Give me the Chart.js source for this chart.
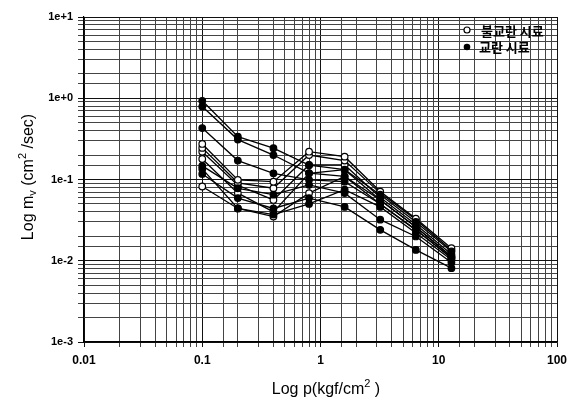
<!DOCTYPE html>
<html><head><meta charset="utf-8">
<script src="https://cdn.jsdelivr.net/npm/chart.js@4/dist/chart.umd.min.js"></script>
<style>html,body{margin:0;padding:0;background:#fff}#wrap{width:577px;height:403px;position:relative}</style>
</head><body><div id="wrap"><canvas id="c" width="577" height="403"></canvas></div>
<script>
const pressures = [0.1, 0.2, 0.4, 0.8, 1.6, 3.2, 6.4, 12.8];
// undisturbed (open markers)
const open1 = [0.274, 0.099, 0.094, 0.22, 0.191, 0.071, 0.033, 0.0143];
const open2 = [0.245, 0.091, 0.078, 0.20, 0.171, 0.068, 0.032, 0.0135];
const open3 = [0.22, 0.085, 0.056, 0.151, 0.151, 0.060, 0.028, 0.0120];
const open4 = [0.179, 0.068, 0.040, 0.119, 0.132, 0.056, 0.026, 0.0113];
const open5 = [0.082, 0.044, 0.035, 0.068, 0.109, 0.050, 0.024, 0.0108];
// disturbed (filled markers)
const filled1 = [0.93, 0.337, 0.243, 0.150, 0.132, 0.065, 0.030, 0.0130];
const filled2 = [0.79, 0.310, 0.200, 0.120, 0.109, 0.056, 0.026, 0.0113];
const filled3 = [0.43, 0.171, 0.119, 0.099, 0.094, 0.050, 0.024, 0.0108];
const filled4 = [0.147, 0.078, 0.065, 0.086, 0.068, 0.032, 0.0199, 0.0095];
const filled5 = [0.135, 0.044, 0.037, 0.050, 0.075, 0.046, 0.022, 0.0103];
const filled6 = [0.117, 0.059, 0.044, 0.059, 0.046, 0.024, 0.0136, 0.0081];
const xTickLabels = ['0.01', '0.1', '1', '10', '100'];
const yTickLabels = ['1e-3', '1e-2', '1e-1', '1e+0', '1e+1'];
const legendLabels = ['불교란 시료', '교란 시료'];

const openSeries = [open1, open2, open3, open4, open5];
const filledSeries = [filled1, filled2, filled3, filled4, filled5, filled6];
const mk = (arr, filled) => ({
  data: arr.map((v, i) => ({x: pressures[i], y: v})),
  borderColor: '#000', borderWidth: 1.3,
  pointRadius: 3.3, pointBorderWidth: 1.2,
  pointBackgroundColor: filled ? '#000' : '#fff', pointBorderColor: '#000',
  showLine: true, fill: false
});
const datasets = [...filledSeries.map(a => mk(a, true)), ...openSeries.map(a => mk(a, false))];

const isPow = v => Math.abs(Math.log10(v) - Math.round(Math.log10(v))) < 1e-6;

const decor = {
  id: 'decor',
  afterDraw(chart) {
    const ctx = chart.ctx;
    ctx.save();
    ctx.fillStyle = '#000';
    ctx.textBaseline = 'alphabetic';
    const fam = '"Liberation Sans", Arial, sans-serif';
    // X title
    const xt = [['Log p(kgf/cm', 16, 0], ['2', 11, -7], [' )', 16, 0]];
    let w = 0;
    xt.forEach(p => { ctx.font = p[1] + 'px ' + fam; w += ctx.measureText(p[0]).width; });
    let x = 326 - w / 2;
    xt.forEach(p => { ctx.font = p[1] + 'px ' + fam; ctx.fillText(p[0], x, 394 + p[2]); x += ctx.measureText(p[0]).width; });
    // Y title
    ctx.translate(33, 177);
    ctx.rotate(-Math.PI / 2);
    const yt = [['Log m', 16, 0], ['v', 11, 3], [' (cm', 16, 0], ['2', 11, -7], [' /sec)', 16, 0]];
    w = 0;
    yt.forEach(p => { ctx.font = p[1] + 'px ' + fam; w += ctx.measureText(p[0]).width; });
    x = -w / 2;
    yt.forEach(p => { ctx.font = p[1] + 'px ' + fam; ctx.fillText(p[0], x, p[2]); x += ctx.measureText(p[0]).width; });
    ctx.restore();
    // legend
    ctx.save();
    const lx = 467, ly = [30, 47];
    ctx.lineWidth = 1.2; ctx.strokeStyle = '#000';
    ctx.beginPath(); ctx.arc(lx, ly[0], 3, 0, Math.PI * 2); ctx.fillStyle = '#fff'; ctx.fill(); ctx.stroke();
    ctx.beginPath(); ctx.arc(lx, ly[1], 3.3, 0, Math.PI * 2); ctx.fillStyle = '#000'; ctx.fill();
    ctx.font = 'bold 13px "Noto Sans CJK KR", sans-serif';
    ctx.textBaseline = 'middle';
    ctx.fillStyle = '#000';
    ctx.fillText(legendLabels[0], 481, ly[0] + 1);
    ctx.fillText(legendLabels[1], 479, ly[1]);
    ctx.restore();
  }
};

new Chart(document.getElementById('c'), {
  type: 'scatter',
  data: { datasets },
  options: {
    responsive: false, animation: false, devicePixelRatio: 1,
    layout: { padding: { left: 0, right: 20, top: 17, bottom: 0 } },
    plugins: { legend: { display: false }, tooltip: { enabled: false } },
    scales: {
      x: {
        type: 'logarithmic', min: 0.01, max: 100,
        afterFit: s => { s.height = 61; },
        grid: { color: c => (c.tick && c.tick.major) ? '#111' : '#444', lineWidth: 1, tickLength: 5, drawTicks: true },
        border: { color: '#000', width: 1.2 },
        ticks: {
          autoSkip: false, maxRotation: 0, padding: 6,
          color: '#000', font: { family: '"Liberation Sans", Arial, sans-serif', size: 12, weight: 'bold' },
          callback: v => isPow(v) ? xTickLabels[Math.round(Math.log10(v)) + 2] : ''
        }
      },
      y: {
        type: 'logarithmic', min: 0.001, max: 10,
        afterFit: s => { s.width = 84; },
        grid: { color: c => (c.tick && c.tick.major) ? '#111' : '#444', lineWidth: 1, tickLength: 6, drawTicks: true },
        border: { color: '#000', width: 1.2 },
        ticks: {
          autoSkip: false, padding: 5,
          color: '#000', font: { family: '"Liberation Sans", Arial, sans-serif', size: 11, weight: 'bold' },
          callback: v => isPow(v) ? yTickLabels[Math.round(Math.log10(v)) + 3] : ''
        }
      }
    }
  },
  plugins: [decor]
});
</script></body></html>
